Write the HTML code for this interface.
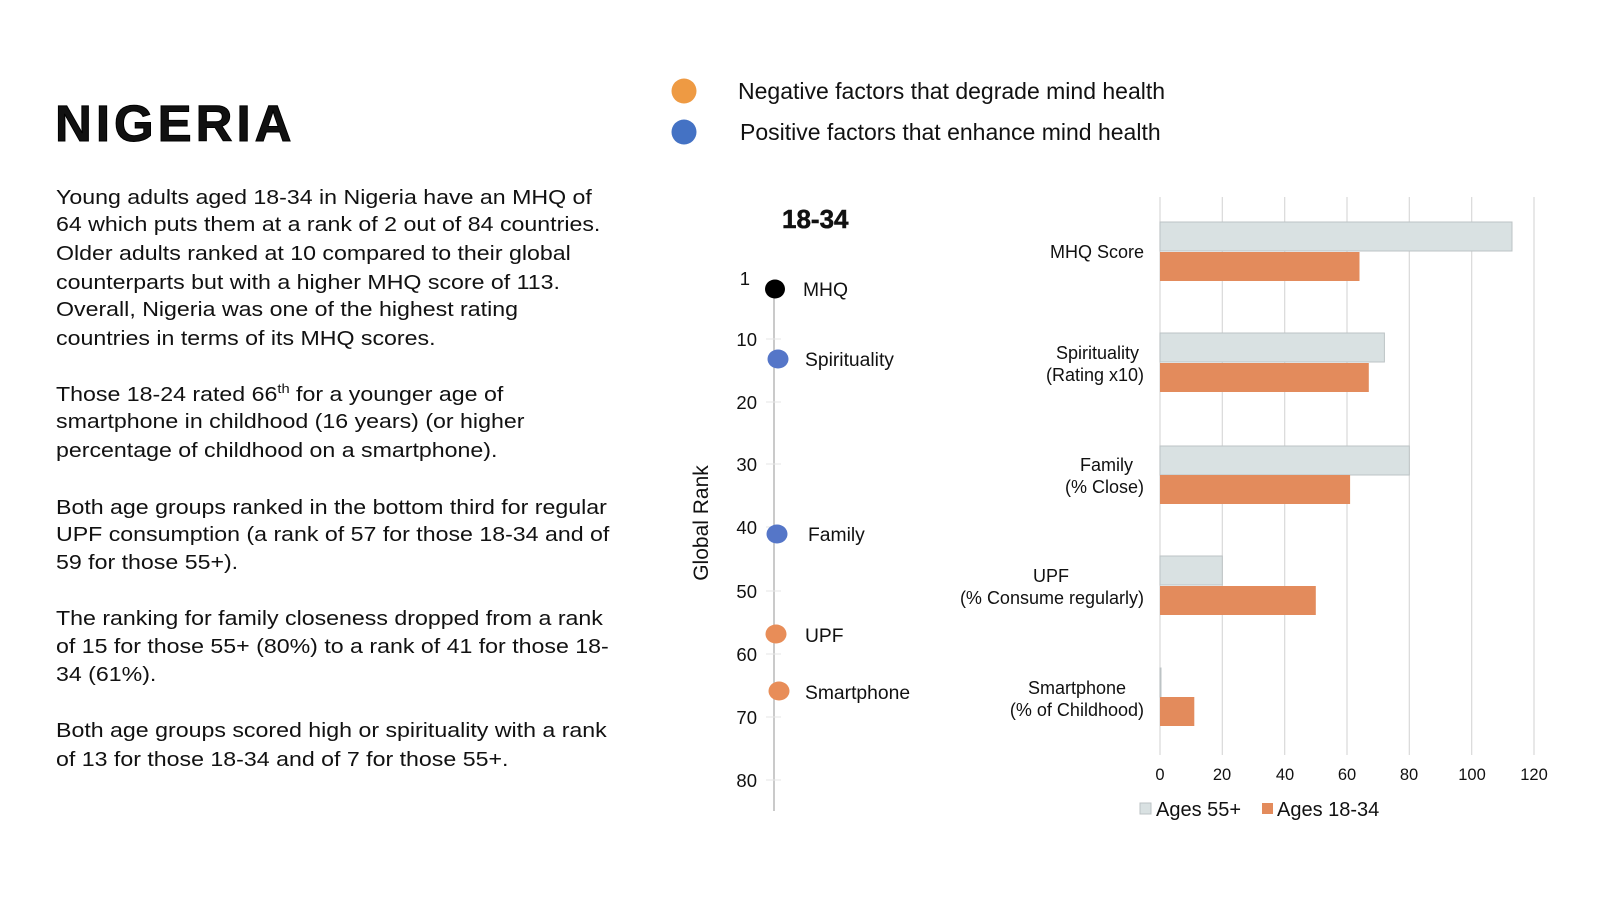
<!DOCTYPE html>
<html><head><meta charset="utf-8"><style>
html,body{margin:0;padding:0;background:#fff;}
svg{display:block;}
text{font-family:"Liberation Sans",Arial,sans-serif;fill:#111;}
</style></head><body>
<svg width="1600" height="900" viewBox="0 0 1600 900" xmlns="http://www.w3.org/2000/svg">
<rect width="1600" height="900" fill="#fff"/>
<text x="55" y="141" font-size="51" font-weight="bold" letter-spacing="4" fill="#000" stroke="#000" stroke-width="1">NIGERIA</text>
<g font-size="20.5" transform="translate(56,0) scale(1.13,1) translate(-56,0)">
<text x="56" y="204">Young adults aged 18-34 in Nigeria have an MHQ of</text>
<text x="56" y="231">64 which puts them at a rank of 2 out of 84 countries.</text>
<text x="56" y="260">Older adults ranked at 10 compared to their global</text>
<text x="56" y="289">counterparts but with a higher MHQ score of 113.</text>
<text x="56" y="316">Overall, Nigeria was one of the highest rating</text>
<text x="56" y="345">countries in terms of its MHQ scores.</text>
<text x="56" y="401">Those 18-24 rated 66<tspan font-size="13" dy="-8">th</tspan><tspan dy="8"> for a younger age of</tspan></text>
<text x="56" y="428">smartphone in childhood (16 years) (or higher</text>
<text x="56" y="457">percentage of childhood on a smartphone).</text>
<text x="56" y="514">Both age groups ranked in the bottom third for regular</text>
<text x="56" y="541">UPF consumption (a rank of 57 for those 18-34 and of</text>
<text x="56" y="569">59 for those 55+).</text>
<text x="56" y="625">The ranking for family closeness dropped from a rank</text>
<text x="56" y="653">of 15 for those 55+ (80%) to a rank of 41 for those 18-</text>
<text x="56" y="681">34 (61%).</text>
<text x="56" y="737">Both age groups scored high or spirituality with a rank</text>
<text x="56" y="766">of 13 for those 18-34 and of 7 for those 55+.</text>
</g>
<!-- top legend -->
<circle cx="684" cy="91" r="12.5" fill="#EE9A43"/>
<circle cx="684" cy="132" r="12.5" fill="#4472C4"/>
<text x="738" y="99" font-size="23">Negative factors that degrade mind health</text>
<text x="740" y="140" font-size="23">Positive factors that enhance mind health</text>
<!-- rank chart -->
<text x="782" y="228" font-size="26" font-weight="bold" stroke="#111" stroke-width="0.5">18-34</text>
<line x1="774" y1="280" x2="774" y2="811" stroke="#b8b8b8" stroke-width="1.5"/>
<g font-size="18.5" text-anchor="end">
<text x="750" y="285">1</text>
<text x="757" y="346">10</text>
<text x="757" y="409">20</text>
<text x="757" y="471">30</text>
<text x="757" y="534">40</text>
<text x="757" y="598">50</text>
<text x="757" y="661">60</text>
<text x="757" y="724">70</text>
<text x="757" y="787">80</text>
</g>
<g stroke="#e6e6e6" stroke-width="1">
<line x1="766" y1="339" x2="781" y2="339"/><line x1="766" y1="402" x2="781" y2="402"/>
<line x1="766" y1="464" x2="781" y2="464"/><line x1="766" y1="527" x2="781" y2="527"/>
<line x1="766" y1="591" x2="781" y2="591"/><line x1="766" y1="654" x2="781" y2="654"/>
<line x1="766" y1="717" x2="781" y2="717"/><line x1="766" y1="780" x2="781" y2="780"/>
</g>
<text transform="translate(708,523) rotate(-90)" font-size="21" text-anchor="middle">Global Rank</text>
<ellipse cx="775" cy="289" rx="10" ry="9.5" fill="#000"/>
<ellipse cx="778" cy="359" rx="10.5" ry="9.5" fill="#5576C8"/>
<ellipse cx="777" cy="534" rx="10.5" ry="9.5" fill="#5576C8"/>
<ellipse cx="776" cy="634" rx="10.5" ry="9.5" fill="#E88D58"/>
<ellipse cx="779" cy="691" rx="10.5" ry="9.5" fill="#E88D58"/>
<g font-size="19.3">
<text x="803" y="296">MHQ</text>
<text x="805" y="366">Spirituality</text>
<text x="808" y="541">Family</text>
<text x="805" y="642">UPF</text>
<text x="805" y="699">Smartphone</text>
</g>
<!-- bar chart -->
<g stroke="#d9d9d9" stroke-width="1.2">
<line x1="1160" y1="197" x2="1160" y2="755"/>
<line x1="1222.3" y1="197" x2="1222.3" y2="755"/>
<line x1="1284.7" y1="197" x2="1284.7" y2="755"/>
<line x1="1347" y1="197" x2="1347" y2="755"/>
<line x1="1409.3" y1="197" x2="1409.3" y2="755"/>
<line x1="1471.7" y1="197" x2="1471.7" y2="755"/>
<line x1="1534" y1="197" x2="1534" y2="755"/>
</g>
<g fill="#D9E1E2" stroke="#bcc3c5" stroke-width="1">
<rect x="1160" y="222" width="352" height="29"/>
<rect x="1160" y="333" width="224.4" height="29"/>
<rect x="1160" y="446" width="249.3" height="29"/>
<rect x="1160" y="556" width="62.3" height="29"/>
<rect x="1160" y="668" width="1" height="29"/>
</g>
<g fill="#E38B5C">
<rect x="1160" y="252" width="199.5" height="29"/>
<rect x="1160" y="363" width="208.8" height="29"/>
<rect x="1160" y="475" width="190.1" height="29"/>
<rect x="1160" y="586" width="155.8" height="29"/>
<rect x="1160" y="697" width="34.3" height="29"/>
</g>
<g font-size="18" text-anchor="end">
<text x="1144" y="258">MHQ Score</text>
<text x="1139" y="359">Spirituality</text>
<text x="1144" y="381">(Rating x10)</text>
<text x="1133" y="471">Family</text>
<text x="1144" y="493">(% Close)</text>
<text x="1069" y="582">UPF</text>
<text x="1144" y="604">(% Consume regularly)</text>
<text x="1126" y="694">Smartphone</text>
<text x="1144" y="716">(% of Childhood)</text>
</g>
<g font-size="16.5" text-anchor="middle">
<text x="1160" y="780">0</text><text x="1222" y="780">20</text><text x="1285" y="780">40</text>
<text x="1347" y="780">60</text><text x="1409" y="780">80</text><text x="1472" y="780">100</text>
<text x="1534" y="780">120</text>
</g>
<rect x="1140" y="803" width="11" height="11" fill="#D9E1E2" stroke="#bcc3c5"/>
<text x="1156" y="816" font-size="20">Ages 55+</text>
<rect x="1262" y="803" width="11" height="11" fill="#E38B5C"/>
<text x="1277" y="816" font-size="20">Ages 18-34</text>
</svg>
</body></html>
